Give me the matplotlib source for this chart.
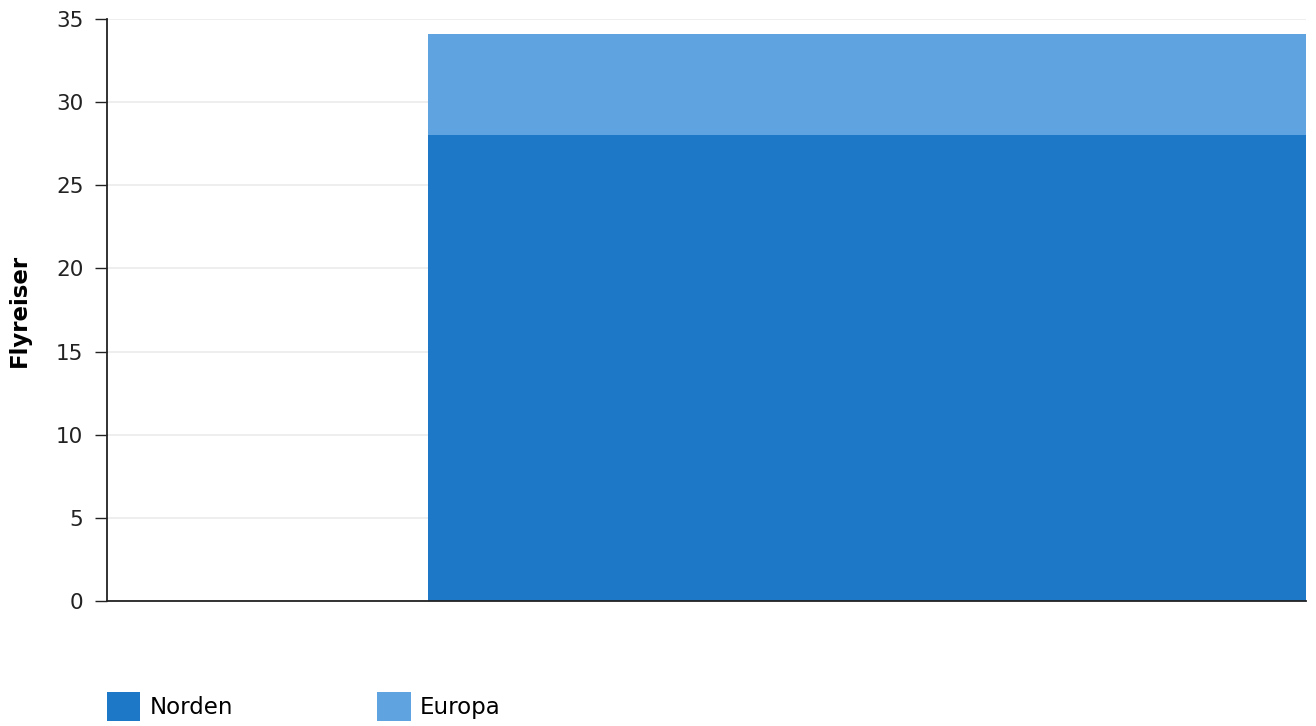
import matplotlib
matplotlib.use("Agg")
import matplotlib.pyplot as plt
from matplotlib.patches import Patch

# data
series = ["Norden", "Europa"]
norden = [28.0]
europa = [6.1]
colors = ["#1d79c7", "#5fa4e1"]

yticks = [0, 5, 10, 15, 20, 25, 30, 35]

fig = plt.figure(figsize=(13.16, 7.26), dpi=100, facecolor='w')
ax = fig.add_axes([107 / 1316, 125 / 726, 1199 / 1316, 582 / 726])

# single bar occupying the right part of the plot (chart is cropped at right)
x0 = [0.268]
w = 0.732
ax.bar(x0, norden, width=w, align='edge', color=colors[0], lw=0, zorder=2)
ax.bar(x0, europa, width=w, bottom=norden, align='edge', color=colors[1], lw=0, zorder=2)

ax.set_xlim(0, 1)
ax.set_ylim(0, 35)
ax.set_yticks(yticks)
ax.set_xticks([])
ax.tick_params(axis='y', labelsize=15.5, length=9, width=1, pad=8, colors='#222222')
ax.grid(axis='y', color='#ebebeb', lw=1.2, zorder=0)
ax.set_axisbelow(True)
for spine in ('top', 'right'):
    ax.spines[spine].set_visible(False)
for spine in ('left', 'bottom'):
    ax.spines[spine].set_color('#222222')
    ax.spines[spine].set_linewidth(1.3)
ax.set_ylabel("Flyreiser", fontsize=16.5, fontweight='bold', labelpad=18)

handles = [Patch(facecolor=c, edgecolor='none', label=s) for s, c in zip(series, colors)]
fig.legend(handles=handles, loc='upper left', bbox_to_anchor=(107 / 1316, 34 / 726),
           ncol=2, frameon=False, fontsize=16.5, handlelength=1.45, handleheight=1.6,
           handletextpad=0.4, columnspacing=6.3, borderpad=0, borderaxespad=0)

fig.savefig("out.png", dpi=100)
